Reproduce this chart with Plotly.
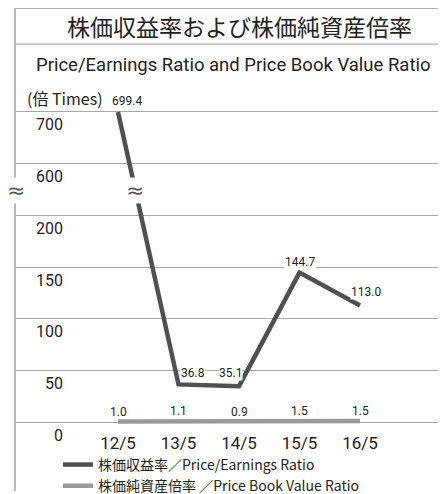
import plotly.graph_objects as go

years = ["12/5", "13/5", "14/5", "15/5", "16/5"]
per = [699.4, 36.8, 35.1, 144.7, 113.0]
pbr = [1.0, 1.1, 0.9, 1.5, 1.5]
per_labels = ["699.4", "36.8", "35.1", "144.7", "113.0"]
pbr_labels = ["1.0", "1.1", "0.9", "1.5", "1.5"]
y_ticks = [0, 50, 100, 150, 200, 600, 700]


def brk(v):
    # broken axis: 0-200 linear, 600-700 compressed above the break
    return v if v <= 200 else 250 + (v - 600) / 2


W, H = 446, 494
OFF = 8  # page body margin shifts the figure by 8px
FONT = "Liberation Sans Narrow, Roboto, Arial, sans-serif"
JP = "Noto Sans CJK JP"
xs = list(range(len(years)))
BREAK_T = 224  # where the wavy break mark sits


def px(x):
    return (x - OFF) / W


def py(y):
    return 1 - (y - OFF) / H


X0 = 118 - OFF   # pixel of first category
DX = 60.5        # pixels per category
Y0 = 432 - OFF   # pixel of value 0
DY = 1.06        # pixels per unit

fig = go.Figure()
fig.add_trace(go.Scatter(
    x=xs, y=[brk(v) for v in per], mode="lines",
    name="株価収益率／Price/Earnings Ratio",
    line=dict(color="#505050", width=4.5),
))
fig.add_trace(go.Scatter(
    x=xs, y=[brk(v) for v in pbr], mode="lines",
    name="株価純資産倍率 ／Price Book Value Ratio",
    line=dict(color="#9a9a9a", width=4.5),
))

ann = []
shifts = [(9, 11), (14, 11), (-9, 13), (0, 11), (6, 13)]
for i, (lab, v) in enumerate(zip(per_labels, per)):
    dx, dy = shifts[i]
    ann.append(dict(x=i, y=brk(v), text=lab, showarrow=False, xshift=dx, yshift=dy,
                    xanchor="center", yanchor="middle",
                    font=dict(family=FONT, size=12, color="#222"), bgcolor="white",
                    borderpad=0))
for i, (lab, v) in enumerate(zip(pbr_labels, pbr)):
    ann.append(dict(x=i, y=brk(v), text=lab, showarrow=False, yshift=10,
                    xanchor="center", yanchor="middle",
                    font=dict(family=FONT, size=12, color="#222")))
# y tick labels, sitting below their grid lines
for v in y_ticks:
    ann.append(dict(x=px(65), xref="paper", y=brk(v), text=str(v), showarrow=False,
                    xanchor="right", yanchor="middle", yshift=-13,
                    font=dict(family=FONT, size=16, color="#222")))
# break marks
x_break = (brk(per[0]) - BREAK_T) / (brk(per[0]) - per[1])
ann.append(dict(x=px(16), xref="paper", y=BREAK_T, yref="y", text="≈", showarrow=False,
                xanchor="center", yanchor="middle",
                font=dict(family="DejaVu Sans", size=22, color="#555"),
                bgcolor="white", borderpad=0))
ann.append(dict(x=x_break, y=BREAK_T, text="≈", showarrow=False,
                xanchor="center", yanchor="middle",
                font=dict(family="DejaVu Sans", size=22, color="#555"),
                bgcolor="white", borderpad=0))
# titles
ann.append(dict(x=px(239), xref="paper", y=py(26), yref="paper",
                xanchor="center", yanchor="middle",
                text="株価収益率および株価純資産倍率", showarrow=False,
                font=dict(family=JP, size=23, color="#222")))
ann.append(dict(x=px(233), xref="paper", y=py(66), yref="paper",
                xanchor="center", yanchor="middle",
                text="Price/Earnings Ratio and Price Book Value Ratio", showarrow=False,
                font=dict(family=FONT, size=18.5, color="#222")))
ann.append(dict(x=px(25), xref="paper", y=py(100), yref="paper",
                xanchor="left", yanchor="middle",
                text="(倍 Times)", showarrow=False,
                font=dict(family=JP, size=16, color="#222")))

fig.update_layout(
    width=W, height=H,
    margin=dict(l=0, r=0, t=0, b=0),
    paper_bgcolor="white", plot_bgcolor="white",
    showlegend=True,
    legend=dict(x=px(58), y=py(459), xanchor="left", yanchor="top",
                font=dict(family=JP, size=14, color="#222"),
                bgcolor="rgba(0,0,0,0)", tracegroupgap=0, itemwidth=30),
    annotations=ann,
    shapes=[
        dict(type="line", xref="paper", yref="paper", x0=px(16), x1=1,
             y0=1 - 0.5 / H, y1=1 - 0.5 / H, line=dict(color="#b0b0b0", width=1.2)),
        dict(type="line", xref="paper", yref="paper", x0=px(16), x1=1,
             y0=py(45), y1=py(45), line=dict(color="#b0b0b0", width=1.2)),
    ],
    xaxis=dict(
        domain=[px(16), 1], range=[-(X0 - (16 - OFF)) / DX, 4 + (W - (X0 + 4 * DX)) / DX],
        tickvals=xs, ticktext=years, anchor="free", position=1 - Y0 / H,
        showgrid=False, zeroline=False, showline=False, ticks="",
        ticklabelstandoff=8,
        tickfont=dict(family=FONT, size=17, color="#222"),
    ),
    yaxis=dict(
        domain=[0, 1], range=[-(H - Y0) / DY, Y0 / DY],
        tickvals=[brk(v) for v in y_ticks], showticklabels=False,
        showgrid=True, gridcolor="#a8a8a8", gridwidth=1, zeroline=False,
        showline=True, linecolor="#b8b8b8", linewidth=1.5, ticks="",
    ),
)

fig.write_html("out.html")
